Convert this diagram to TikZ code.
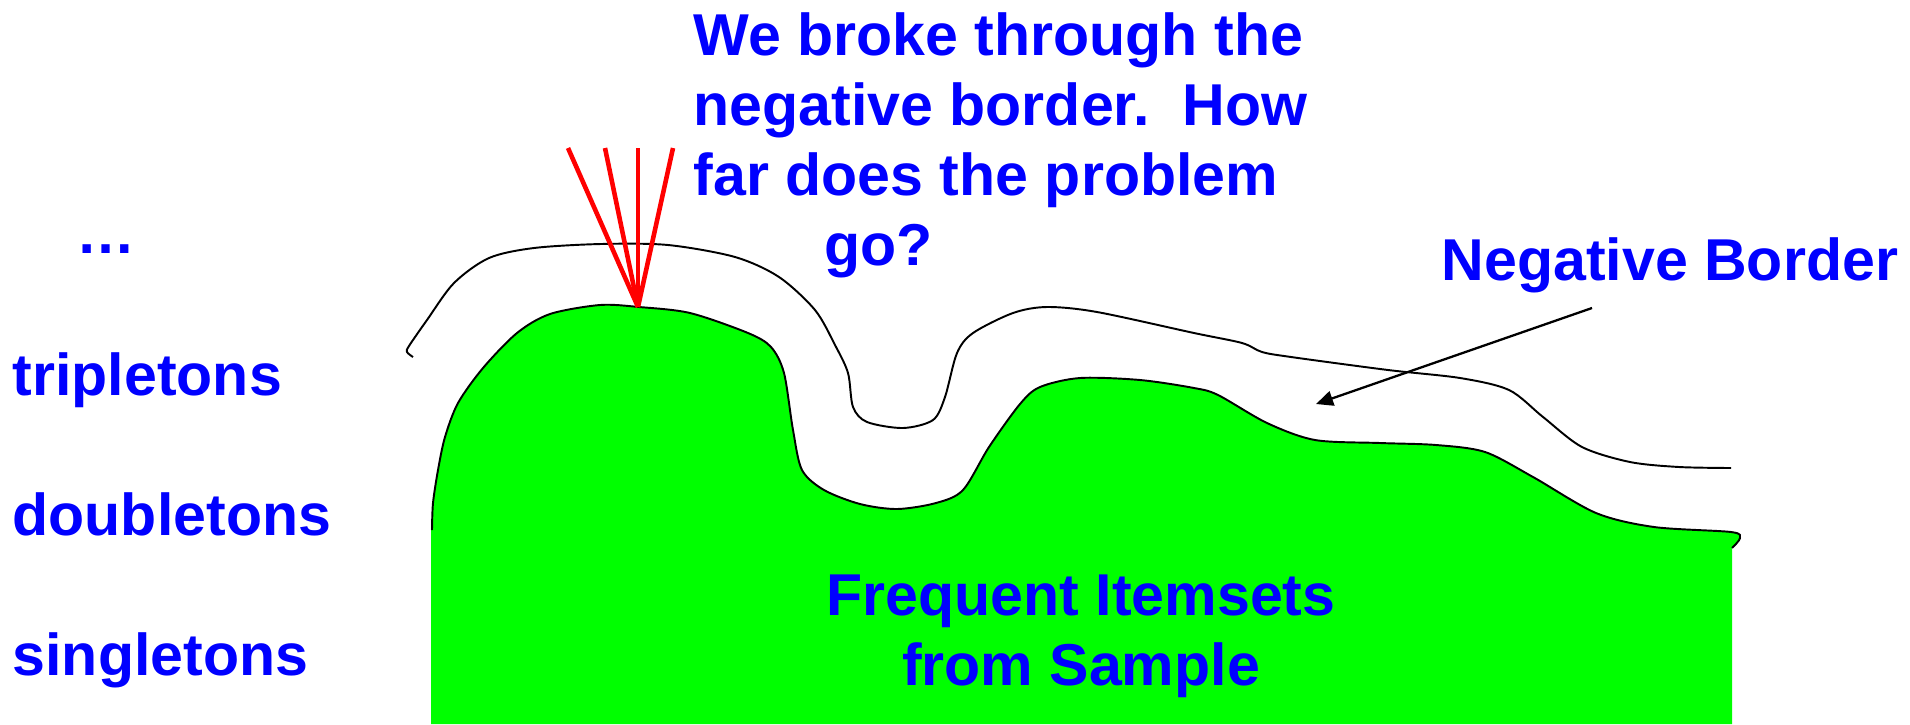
\documentclass[tikz,border=0pt]{standalone}
\usepackage{fontspec}
\setmainfont{Liberation Sans}
\usepackage{tikz}
\usetikzlibrary{arrows.meta}
\definecolor{itemblue}{RGB}{0, 0, 255}
\definecolor{samplegreen}{RGB}{0, 255, 0}
\definecolor{probered}{RGB}{255, 0, 0}

\begin{document}
\begin{tikzpicture}[
  x=0.01cm, y=-0.01cm,
  level/.style={anchor=base west, inner sep=0pt, text=itemblue,
                font=\fontsize{16.8}{19.9}\selectfont\bfseries},
  note/.style={level, align=left},
  border/.style={draw=black, line width=0.55pt, line join=round},
  probe/.style={draw=probered, line width=1.3pt},
  arrow/.style={-{Triangle[length=0.17cm, width=0.15cm]}, line width=0.65pt}
]
  \useasboundingbox (0,0) rectangle (1910,724);

  % frequent itemsets from the sample
  \fill[samplegreen] (431,724) -- (431,530) -- plot[smooth] coordinates {
    (432,530) (433,503) (438,470) (445,437) (458,403) (483,368) (517,333)
    (550,314) (600,305) (639,307) (690,313) (748,333) (771,347) (784,373)
    (793,430) (802,470) (824,490) (860,504) (897,509) (936,503) (963,490)
    (989,447) (1020,404) (1040,387) (1080,378) (1140,380) (1194,388)
    (1218,395) (1267,423) (1315,440) (1380,443) (1436,445) (1485,452)
    (1533,477) (1596,513) (1654,527) (1731,532) (1740,538) (1732,548)}
    -- (1732,724) -- cycle;
  \draw[border] plot[smooth] coordinates {
    (432,530) (433,503) (438,470) (445,437) (458,403) (483,368) (517,333)
    (550,314) (600,305) (639,307) (690,313) (748,333) (771,347) (784,373)
    (793,430) (802,470) (824,490) (860,504) (897,509) (936,503) (963,490)
    (989,447) (1020,404) (1040,387) (1080,378) (1140,380) (1194,388)
    (1218,395) (1267,423) (1315,440) (1380,443) (1436,445) (1485,452)
    (1533,477) (1596,513) (1654,527) (1731,532) (1740,538) (1732,548)};

  % negative border
  \draw[border] plot[smooth] coordinates {
    (413,357) (407,352) (409,346) (427,320) (454,283) (489,258) (534,248)
    (601,244) (668,245) (735,257) (779,277) (815,310) (835,345) (848,373)
    (853,407) (867,422) (903,428) (933,420) (945,397) (957,353) (973,333)
    (1013,313) (1047,307) (1097,312) (1194,333) (1242,343) (1262,352)
    (1291,357) (1388,370) (1460,378) (1509,390) (1543,417) (1582,447)
    (1630,462) (1679,467) (1731,468)};

  % break through at the peak
  \coordinate (peak) at (638,307);
  \foreach \x in {568,605,638,673}
    \draw[probe] (peak) -- (\x,148);

  % level labels
  \node[level] (dots)    at (76,253)  {…};
  \node[level] (triples) at (12,395)  {tripletons};
  \node[level] (doubles) at (12,535)  {doubletons};
  \node[level] (singles) at (12,675)  {singletons};

  \node[note] (question) at (693,265) {We broke through the\\
    negative border.~~How\\far does the problem\\\hspace*{1.31cm}go?};
  \node[level] (negb) at (1441,280) {Negative Border};
  \node[note, align=center, anchor=base] (freq) at (1081,685)
    {Frequent Itemsets\\from Sample};

  \coordinate (nbtail) at (1592,308);
  \coordinate (gap) at (1316,404);
  \draw[arrow] (nbtail) -- (gap);
\end{tikzpicture}
\end{document}
